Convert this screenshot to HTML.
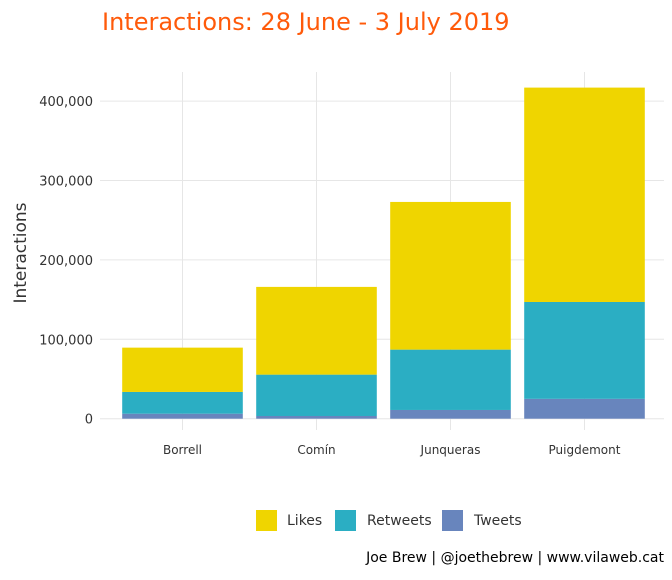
<!DOCTYPE html>
<html><head><meta charset="utf-8"><style>
body{margin:0;background:#fff;font-family:"DejaVu Sans","Liberation Sans",sans-serif;}
</style></head><body>
<svg id="chart" width="672" height="576" xmlns="http://www.w3.org/2000/svg">
<text x="102" y="30" font-size="24" fill="#FF5A0A">Interactions: 28 June - 3 July 2019</text>
<text transform="translate(26,253) rotate(-90)" text-anchor="middle" font-size="17" fill="#333">Interactions</text>
<g id="grid"></g><g id="bars"></g><g id="axes"></g>
<g>
<rect x="256" y="510" width="21" height="21" fill="#EFD500"/>
<text x="287" y="525" font-size="14" fill="#333">Likes</text>
<rect x="335" y="510" width="21" height="21" fill="#2BAEC3"/>
<text x="367" y="525" font-size="14" fill="#333">Retweets</text>
<rect x="442" y="510" width="21" height="21" fill="#6885BD"/>
<text x="474" y="525" font-size="14" fill="#333">Tweets</text>
</g>
<text x="664" y="562" text-anchor="end" font-size="14" fill="#000">Joe Brew | @joethebrew | www.vilaweb.cat</text>
</svg>
<script>
const categories=["Borrell","Comín","Junqueras","Puigdemont"];
const tweets=[6300,3400,11000,25000];
const retweets=[27400,52100,76000,122000];
const likes=[55800,110500,186000,270000];
const yTicks=[0,100000,200000,300000,400000];
const yTickLabels=["0","100,000","200,000","300,000","400,000"];
const NS="http://www.w3.org/2000/svg";
const px0=100,px1=664;
const x0=115.5,x1=651.5,y0=418.7,pxPer=79.4/100000;
const band=(x1-x0)/categories.length;
const y=v=>y0-v*pxPer;
const xc=i=>x0+band*(i+0.5);
function mk(tag,attrs,parent){const e=document.createElementNS(NS,tag);for(const k in attrs)e.setAttribute(k,attrs[k]);document.getElementById(parent).appendChild(e);return e;}
yTicks.forEach((t,i)=>{
 let l=mk("line",{x1:px0,x2:px1,y1:y(t),y2:y(t),stroke:"#e6e6e6","stroke-width":1},"grid");
 
 
 let tx=mk("text",{x:93,y:y(t)+5,"text-anchor":"end","font-size":13,fill:"#333"},"axes");
 tx.textContent=yTickLabels[i];
 
 
});
categories.forEach((c,i)=>{
 let l=mk("line",{x1:xc(i),x2:xc(i),y1:72,y2:430,stroke:"#e6e6e6","stroke-width":1},"grid");
 
 
 const w=band*0.9,bx=xc(i)-w/2;
 const segs=[[tweets[i],"#6885BD","tweets"],[retweets[i],"#2BAEC3","retweets"],[likes[i],"#EFD500","likes"]];
 let base=0;
 segs.forEach(s=>{
  const r=mk("rect",{x:bx,width:w,y:y(base+s[0]),height:s[0]*pxPer,fill:s[1]},"bars");
  
  
  base+=s[0];
 });
 let tx=mk("text",{x:xc(i),y:454,"text-anchor":"middle","font-size":12,fill:"#333"},"axes");
 tx.textContent=c;
 
 
});
</script>
</body></html>
